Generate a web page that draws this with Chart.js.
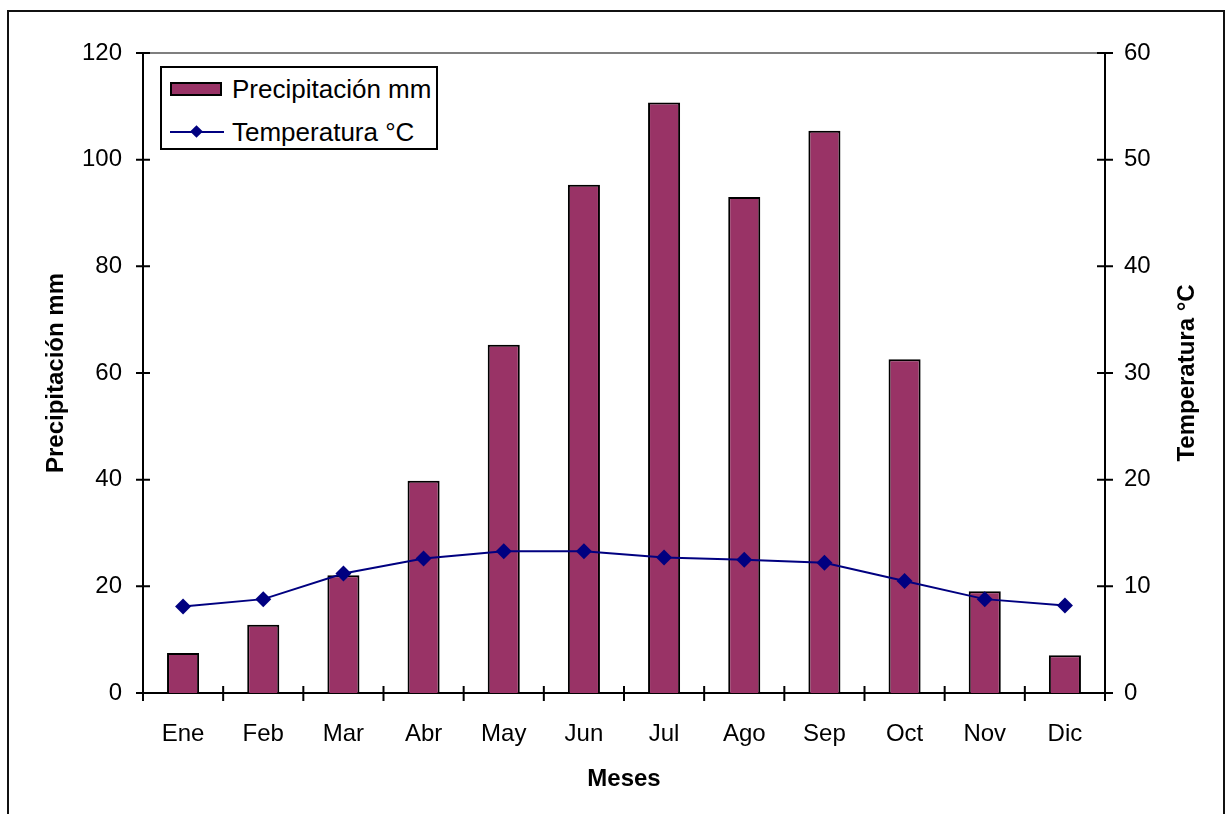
<!DOCTYPE html>
<html>
<head>
<meta charset="utf-8">
<script src="https://cdn.jsdelivr.net/npm/chart.js@4/dist/chart.umd.min.js"></script>
<style>
  html, body { margin: 0; padding: 0; background: #fff; overflow: hidden; }
  #wrap { position: relative; width: 1226px; height: 814px; }
  #frame {
    position: absolute; left: 7px; top: 10px; width: 1218px; height: 900px;
    border: 2px solid #111; box-sizing: border-box; pointer-events: none;
  }
  #legend {
    position: absolute; left: 160px; top: 66px; width: 278px; height: 84px;
    border: 2px solid #000; box-sizing: border-box; background: #fff;
    font-family: 'Liberation Sans', Arial, sans-serif; font-size: 26px; color: #000;
  }
  .item { position: absolute; left: 8px; height: 30px; display: flex; align-items: center; white-space: nowrap; }
  .swatch { width: 52px; height: 14px; border: 2px solid #000; box-sizing: border-box; margin-right: 10px; }
  .lineSample { position: relative; width: 54px; height: 2px; margin-right: 8px; }
  .lineSample span {
    position: absolute; left: 22px; top: -4px; width: 9px; height: 9px; transform: rotate(45deg);
  }
</style>
</head>
<body>
<div id="wrap">
  <canvas id="chart" width="1226" height="814"></canvas>
  <div id="frame"></div>
  <div id="legend"></div>
</div>
<script>
/* ── Data ── */
const months = ['Ene', 'Feb', 'Mar', 'Abr', 'May', 'Jun', 'Jul', 'Ago', 'Sep', 'Oct', 'Nov', 'Dic'];
const precipitacion = [7.5, 12.8, 22.1, 39.8, 65.3, 95.3, 110.7, 93.0, 105.4, 62.6, 19.1, 7.1];
const temperatura = [8.1, 8.8, 11.2, 12.6, 13.3, 13.3, 12.7, 12.5, 12.2, 10.5, 8.8, 8.2];
const precipTicks = [0, 20, 40, 60, 80, 100, 120];
const tempTicks = [0, 10, 20, 30, 40, 50, 60];

const BAR = '#993366';
const NAVY = '#000080';
const FONT = "'Liberation Sans', Arial, sans-serif";

/* ── Plot frame, cross ticks, right title ── */
const axesPlugin = {
  id: 'axesPlugin',
  beforeDatasetsDraw(chart) {
    const { ctx, chartArea: a, scales } = chart;
    ctx.save();
    // top border
    ctx.strokeStyle = '#555'; ctx.lineWidth = 1.5;
    ctx.beginPath(); ctx.moveTo(a.left, a.top); ctx.lineTo(a.right, a.top); ctx.stroke();
    ctx.strokeStyle = '#000'; ctx.lineWidth = 2;
    ctx.beginPath();
    ctx.moveTo(a.left, a.top); ctx.lineTo(a.left, a.bottom); ctx.lineTo(a.right, a.bottom); ctx.lineTo(a.right, a.top);
    // ticks
    scales.y.ticks.forEach(t => {
      const p = scales.y.getPixelForValue(t.value);
      ctx.moveTo(a.left - 7, p); ctx.lineTo(a.left + 7, p);
    });
    scales.y1.ticks.forEach(t => {
      const p = scales.y1.getPixelForValue(t.value);
      ctx.moveTo(a.right - 8, p); ctx.lineTo(a.right + 8, p);
    });
    const step = (a.right - a.left) / months.length;
    for (let i = 0; i <= months.length; i++) {
      const x = a.left + i * step;
      ctx.moveTo(x, a.bottom - 7); ctx.lineTo(x, a.bottom + 8);
    }
    ctx.stroke();
    ctx.restore();
  },
  afterDraw(chart) {
    const { ctx, chartArea: a } = chart;
    ctx.save();
    ctx.translate(1187, (a.top + a.bottom) / 2);
    ctx.rotate(-Math.PI / 2);
    ctx.font = 'bold 24px ' + FONT;
    ctx.fillStyle = '#000';
    ctx.textAlign = 'center';
    ctx.textBaseline = 'middle';
    ctx.fillText('Temperatura °C', 0, 0);
    ctx.restore();
  }
};

const chart = new Chart(document.getElementById('chart'), {
  data: {
    labels: months,
    datasets: [
      {
        type: 'line',
        label: 'Temperatura °C',
        data: temperatura,
        yAxisID: 'y1',
        borderColor: NAVY,
        backgroundColor: NAVY,
        borderWidth: 2,
        pointStyle: 'rectRot',
        pointRadius: 8,
        pointBorderWidth: 0,
        tension: 0,
        order: 0
      },
      {
        type: 'bar',
        label: 'Precipitación mm',
        data: precipitacion,
        yAxisID: 'y',
        backgroundColor: BAR,
        borderColor: '#000',
        borderWidth: 2,
        barPercentage: 0.4,
        categoryPercentage: 1,
        order: 1
      }
    ]
  },
  options: {
    responsive: false,
    animation: false,
    layout: { padding: { top: 53, left: 0, right: 0, bottom: 0 } },
    plugins: { legend: { display: false }, tooltip: { enabled: false } },
    scales: {
      x: {
        offset: true,
        grid: { display: false, drawTicks: false },
        border: { display: false },
        ticks: { color: '#000', font: { family: FONT, size: 24 }, padding: 27, maxRotation: 0 },
        title: { display: true, text: 'Meses', color: '#000', font: { family: FONT, size: 24, weight: 'bold' }, padding: { top: 0, bottom: 20 } },
        afterFit(s) { s.height = 121; }
      },
      y: {
        position: 'left',
        min: 0, max: 120,
        afterBuildTicks(s) { s.ticks = precipTicks.map(v => ({ value: v })); },
        grid: { display: false, drawTicks: false },
        border: { display: false },
        ticks: { color: '#000', font: { family: FONT, size: 24 }, padding: 21 },
        title: { display: true, text: 'Precipitación mm', color: '#000', font: { family: FONT, size: 24, weight: 'bold' }, padding: { top: 42, bottom: 0 } },
        afterFit(s) { s.width = 143; }
      },
      y1: {
        position: 'right',
        min: 0, max: 60,
        afterBuildTicks(s) { s.ticks = tempTicks.map(v => ({ value: v })); },
        grid: { display: false, drawTicks: false },
        border: { display: false },
        ticks: { color: '#000', font: { family: FONT, size: 24 }, padding: 19 },
        afterFit(s) { s.width = 121; }
      }
    }
  },
  plugins: [axesPlugin]
});

/* ── Legend (HTML) ── */
function buildLegend() {
  const box = document.getElementById('legend');
  const bar = chart.data.datasets.find(d => d.type === 'bar');
  const line = chart.data.datasets.find(d => d.type === 'line');
  box.innerHTML = `
    <div class="item" style="top:6px"><div class="swatch" style="background:${bar.backgroundColor}"></div>${bar.label}</div>
    <div class="item" style="top:49px"><div class="lineSample" style="background:${line.borderColor}"><span style="background:${line.borderColor}"></span></div>${line.label}</div>`;
}
buildLegend();
</script>
</body>
</html>
